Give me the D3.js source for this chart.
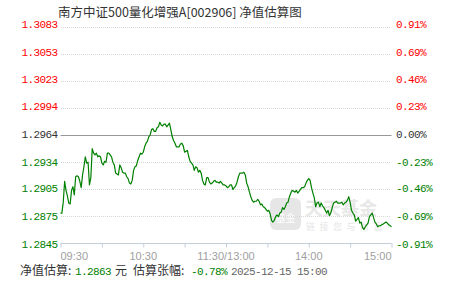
<!DOCTYPE html>
<html><head><meta charset="utf-8">
<script src="https://cdn.jsdelivr.net/npm/d3@7/dist/d3.min.js"></script>
<style>
html,body{margin:0;padding:0;background:#fff;}
svg{display:block;}
</style></head>
<body>
<script>
const title = "南方中证500量化增强A[002906] 净值估算图";
const baseNav = 1.2964;
const navTicks = [1.3083, 1.3053, 1.3023, 1.2994, 1.2964, 1.2934, 1.2905, 1.2875, 1.2845];
const pctTicks = ["0.91%", "0.69%", "0.46%", "0.23%", "0.00%", "-0.23%", "-0.46%", "-0.69%", "-0.91%"];
const timeTickMinutes = [0, 30, 60, 90, 120, 150, 180, 210, 240];
const timeLabels = [[0, "09:30"], [60, "10:30"], [120, "11:30/13:00"], [180, "14:00"], [240, "15:00"]];
// estimated NAV, one value per trading minute (09:30 .. 11:30, 13:00 .. 15:00)
const navValues = [
1.2878,1.2878,1.2890,1.2913,1.2903,1.2897,1.2889,1.2888,1.2903,1.2907,
1.2898,1.2918,1.2919,1.2918,1.2913,1.2906,1.2920,1.2929,1.2940,1.2933,
1.2934,1.2909,1.2917,1.2949,1.2944,1.2942,1.2944,1.2940,1.2941,1.2940,
1.2933,1.2931,1.2935,1.2934,1.2944,1.2944,1.2942,1.2940,1.2934,1.2931,
1.2922,1.2921,1.2920,1.2931,1.2928,1.2923,1.2922,1.2922,1.2918,1.2916,
1.2911,1.2910,1.2914,1.2925,1.2929,1.2930,1.2936,1.2940,1.2944,1.2943,
1.2945,1.2951,1.2955,1.2957,1.2962,1.2964,1.2970,1.2971,1.2968,1.2968,
1.2972,1.2973,1.2978,1.2975,1.2974,1.2976,1.2976,1.2973,1.2975,1.2977,
1.2970,1.2962,1.2958,1.2955,1.2951,1.2951,1.2951,1.2954,1.2955,1.2952,
1.2945,1.2946,1.2947,1.2940,1.2935,1.2933,1.2931,1.2925,1.2929,1.2928,
1.2923,1.2925,1.2922,1.2914,1.2910,1.2909,1.2917,1.2917,1.2912,1.2910,
1.2911,1.2913,1.2914,1.2912,1.2912,1.2911,1.2913,1.2911,1.2909,1.2909,
1.2908,1.2906,1.2907,1.2909,1.2909,1.2904,1.2906,1.2908,1.2912,1.2918,
1.2922,1.2922,1.2922,1.2923,1.2920,1.2911,1.2907,1.2901,1.2896,1.2892,
1.2890,1.2891,1.2891,1.2893,1.2891,1.2887,1.2888,1.2885,1.2884,1.2882,
1.2880,1.2881,1.2877,1.2870,1.2868,1.2870,1.2874,1.2876,1.2874,1.2878,
1.2879,1.2884,1.2882,1.2885,1.2889,1.2890,1.2896,1.2900,1.2903,1.2902,
1.2901,1.2903,1.2900,1.2902,1.2904,1.2906,1.2906,1.2907,1.2911,1.2914,
1.2916,1.2914,1.2906,1.2900,1.2895,1.2885,1.2889,1.2890,1.2885,1.2889,
1.2886,1.2884,1.2881,1.2878,1.2881,1.2875,1.2878,1.2884,1.2889,1.2890,
1.2891,1.2889,1.2889,1.2889,1.2890,1.2887,1.2889,1.2890,1.2892,1.2896,
1.2890,1.2881,1.2878,1.2876,1.2869,1.2871,1.2873,1.2867,1.2868,1.2862,
1.2860,1.2863,1.2865,1.2867,1.2874,1.2876,1.2878,1.2873,1.2868,1.2866,
1.2863,1.2864,1.2864,1.2865,1.2866,1.2867,1.2868,1.2867,1.2865,1.2864,
1.2863];
const footer = {navLabel: "净值估算:", nav: "1.2863", unit: "元", chgLabel: "估算张幅:", chg: "-0.78%", time: "2025-12-15 15:00"};

const W = 451, H = 281;
const svg = d3.select("body").append("svg").attr("width", W).attr("height", H);

const x = d3.scaleLinear().domain([0, 240]).range([60.5, 391.5]);
const y = d3.scaleLinear().domain([navTicks[navTicks.length-1], navTicks[0]]).range([243, 27]);

const RED = "#ff0000", GREEN = "#008000", DARK = "#333333";
const colorFor = i => i < 4 ? RED : (i === 4 ? DARK : GREEN);

// title
svg.append("text").attr("x", 58).attr("y", 16.5)
  .attr("font-family", "'Noto Sans CJK SC', sans-serif").attr("font-size", 12.5)
  .attr("fill", "#333").text(title);

// watermark
const wm = svg.append("g").attr("opacity", 1);
wm.append("rect").attr("x", 270).attr("y", 198).attr("width", 31).attr("height", 32).attr("rx", 6).attr("fill", "#e6e6e6");
wm.append("text").attr("x", 285.5).attr("y", 222).attr("text-anchor", "middle")
  .attr("font-family", "'Noto Sans CJK SC', sans-serif").attr("font-size", 10).attr("fill", "#ffffff").text("基金");
wm.append("text").attr("x", 305).attr("y", 215)
  .attr("font-family", "'Noto Sans CJK SC', sans-serif").attr("font-size", 18).attr("font-weight", "bold")
  .attr("fill", "#e8e8e8").attr("letter-spacing", 0).text("天天基金");
wm.append("text").attr("x", 306).attr("y", 230)
  .attr("font-family", "'Noto Sans CJK SC', sans-serif").attr("font-size", 9)
  .attr("fill", "#e6e6e6").attr("letter-spacing", 4.5).text("链接您与财富");

// gridlines
navTicks.forEach((v, i) => {
  const yy = Math.round(y(v)) + 0.5;
  if (i === navTicks.length - 1) return;
  if (i === 4) {
    svg.append("line").attr("x1", 60.5).attr("x2", 391.5).attr("y1", yy).attr("y2", yy)
      .attr("stroke", "#999").attr("stroke-width", 1);
  } else {
    svg.append("line").attr("x1", 61).attr("x2", 391).attr("y1", yy).attr("y2", yy)
      .attr("stroke", "#d8d8d8").attr("stroke-width", 1).attr("stroke-dasharray", "1,1");
  }
});

// y labels
navTicks.forEach((v, i) => {
  const yy = y(v);
  const ly = yy - 1 + (yy - 135) * 0.019;
  svg.append("text").attr("x", 57.5).attr("y", ly).attr("dy", "0.35em").attr("text-anchor", "end")
    .attr("font-family", "'Liberation Mono', monospace").attr("font-size", 11).attr("letter-spacing", -0.6)
    .attr("fill", colorFor(i)).text(d3.format(".4f")(v));
  svg.append("text").attr("x", 396).attr("y", ly).attr("dy", "0.35em").attr("text-anchor", "start")
    .attr("font-family", "'Liberation Mono', monospace").attr("font-size", 11).attr("letter-spacing", -0.6)
    .attr("fill", colorFor(i)).text(pctTicks[i]);
});

// bottom axis
const axisG = svg.append("g").attr("transform", "translate(0,243)");
const xAxis = d3.axisBottom(x).tickValues(timeTickMinutes).tickSize(4).tickFormat("");
axisG.call(xAxis);
axisG.select(".domain").attr("stroke", "#c3cedb").attr("d", "M60.5,0.5H391.5");
axisG.selectAll(".tick line").attr("stroke", "#c3cedb").attr("transform", "translate(0,0.5)");

timeLabels.forEach(([m, lab], i) => {
  const anchor = i === 0 ? "start" : (i === timeLabels.length - 1 ? "end" : "middle");
  svg.append("text").attr("x", x(m)).attr("y", 259.5).attr("text-anchor", anchor)
    .attr("font-family", "'Liberation Sans', Arial, sans-serif").attr("font-size", 11)
    .attr("fill", "#a0a0a0").text(lab);
});

// line
const line = d3.line().x((d, i) => x(i)).y(d => y(d));
svg.append("path").datum(navValues).attr("d", line)
  .attr("fill", "none").attr("stroke", GREEN).attr("stroke-width", 1.2).attr("stroke-linejoin", "round");

// footer
const fy = 274.5;
const cjk = "'Noto Sans CJK SC', sans-serif", mono = "'Liberation Mono', monospace";
const parts = [
  [20, footer.navLabel, DARK, cjk, 12, 0],
  [75, footer.nav, GREEN, mono, 11, -0.6],
  [115, footer.unit, DARK, cjk, 12, 0],
  [133, footer.chgLabel, DARK, cjk, 12, 0],
  [191, footer.chg, GREEN, mono, 11, -0.6],
  [231, footer.time, "#666666", mono, 11, -0.6]
];
parts.forEach(([px, t, c, f, fs, ls]) => {
  svg.append("text").attr("x", px).attr("y", fy).attr("font-family", f).attr("font-size", fs)
    .attr("letter-spacing", ls).attr("fill", c).text(t);
});
</script>
</body></html>
